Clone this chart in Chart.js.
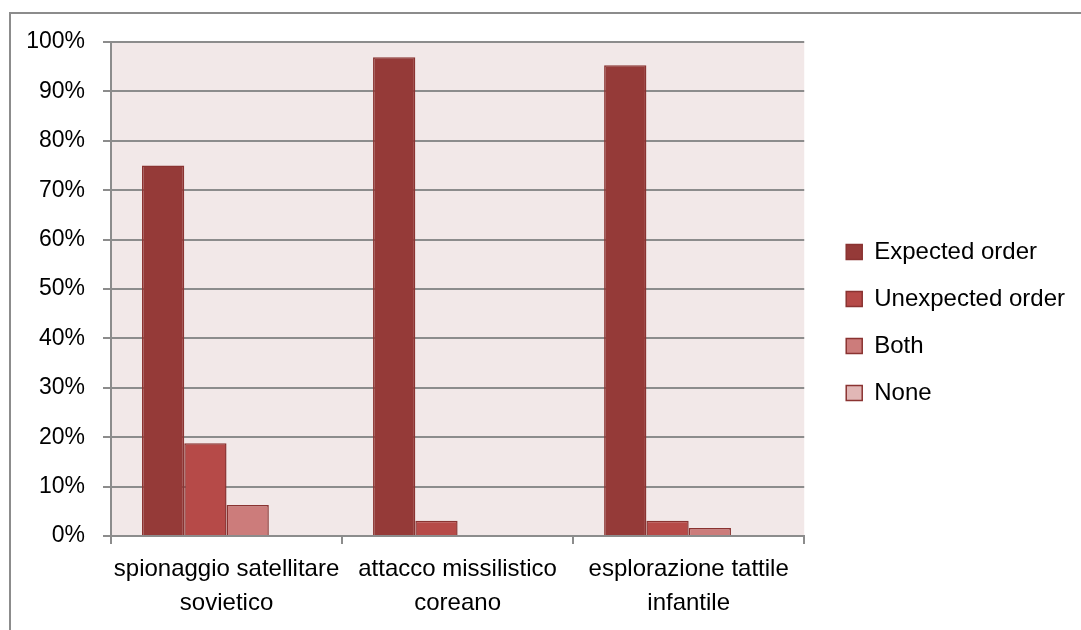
<!DOCTYPE html>
<html>
<head>
<meta charset="utf-8">
<script src="https://cdn.jsdelivr.net/npm/chart.js@4/dist/chart.umd.min.js"></script>
<style>
  html, body { margin: 0; padding: 0; background: #fff; overflow: hidden; }
  #wrap { position: relative; width: 1081px; height: 630px; }
  #frame { position: absolute; left: 9px; top: 12px; width: 1200px; height: 700px;
           border-left: 2px solid #8c8c8c; border-top: 2px solid #8c8c8c; }
  canvas { position: absolute; left: 0; top: 0; }
</style>
</head>
<body>
<div id="wrap">
  <div id="frame"></div>
  <canvas id="chart" width="1081" height="630"></canvas>
</div>
<script>
const categories = [
  ["spionaggio satellitare", "sovietico"],
  ["attacco missilistico", "coreano"],
  ["esplorazione tattile", "infantile"]
];
const seriesNames = ["Expected order", "Unexpected order", "Both", "None"];
const expected = [75, 96.9, 95.3];
const unexpected = [18.8, 3.1, 3.1];
const both = [6.3, 0, 1.6];
const none = [0, 0, 0];
const yTicks = [0, 10, 20, 30, 40, 50, 60, 70, 80, 90, 100];

const fillColors = ["#953a38", "#b64a48", "#cc7c7b", "#e1b7b6"];
const edgeColor = "#8a3331";
const gridColor = "#8c8c8c";
const family = "'Liberation Sans', Arial, sans-serif";

Chart.defaults.font.family = family;
Chart.defaults.color = "#000";

// plot area tint
const plotBg = {
  id: "plotBg",
  beforeDraw(chart) {
    const a = chart.chartArea;
    const ctx = chart.ctx;
    ctx.save();
    ctx.fillStyle = "#f2e8e8";
    ctx.fillRect(a.left, a.top, a.right - a.left, a.bottom - a.top);
    ctx.restore();
  }
};

const values = [expected, unexpected, both, none];

new Chart(document.getElementById("chart"), {
  type: "bar",
  data: {
    labels: categories,
    datasets: seriesNames.map((name, i) => ({
      label: name,
      data: values[i],
      backgroundColor: fillColors[i],
      borderColor: edgeColor,
      borderWidth: 1.5,
      borderSkipped: "bottom",
      categoryPercentage: 0.732,
      barPercentage: 1
    }))
  },
  options: {
    responsive: false,
    animation: false,
    layout: { padding: { top: 15, left: 0, right: 6, bottom: 0 } },
    plugins: {
      tooltip: { enabled: false },
      legend: {
        position: "right",
        maxWidth: 320,
        labels: {
          font: { family: family, size: 24 },
          color: "#000",
          boxWidth: 16,
          boxHeight: 15,
          padding: 23
        }
      }
    },
    scales: {
      x: {
        grid: { drawOnChartArea: false, drawTicks: true, tickLength: 8, color: gridColor, lineWidth: 2 },
        border: { display: true, color: gridColor, width: 2 },
        ticks: { font: { family: family, size: 24, lineHeight: 1.42 }, padding: 8, maxRotation: 0, autoSkip: false },
        afterFit(s) { s.height = 94; }
      },
      y: {
        min: 0,
        max: 100,
        afterBuildTicks(s) { s.ticks = yTicks.map(v => ({ value: v })); },
        grid: { color: gridColor, lineWidth: 2, tickLength: 8 },
        border: { display: true, color: gridColor, width: 2 },
        ticks: { font: { family: family, size: 23 }, padding: 18, callback: v => v + "%" },
        afterFit(s) { s.width = 111; }
      },
      topGap: {
        type: "linear",
        position: "top",
        display: true,
        grid: { display: false },
        border: { display: false },
        ticks: { display: false },
        afterFit(s) { s.height = 27; }
      },
      rightGap: {
        type: "linear",
        position: "right",
        display: true,
        grid: { display: false },
        border: { display: false },
        ticks: { display: false },
        afterFit(s) { s.width = 19; }
      }
    }
  },
  plugins: [plotBg]
});
</script>
</body>
</html>
